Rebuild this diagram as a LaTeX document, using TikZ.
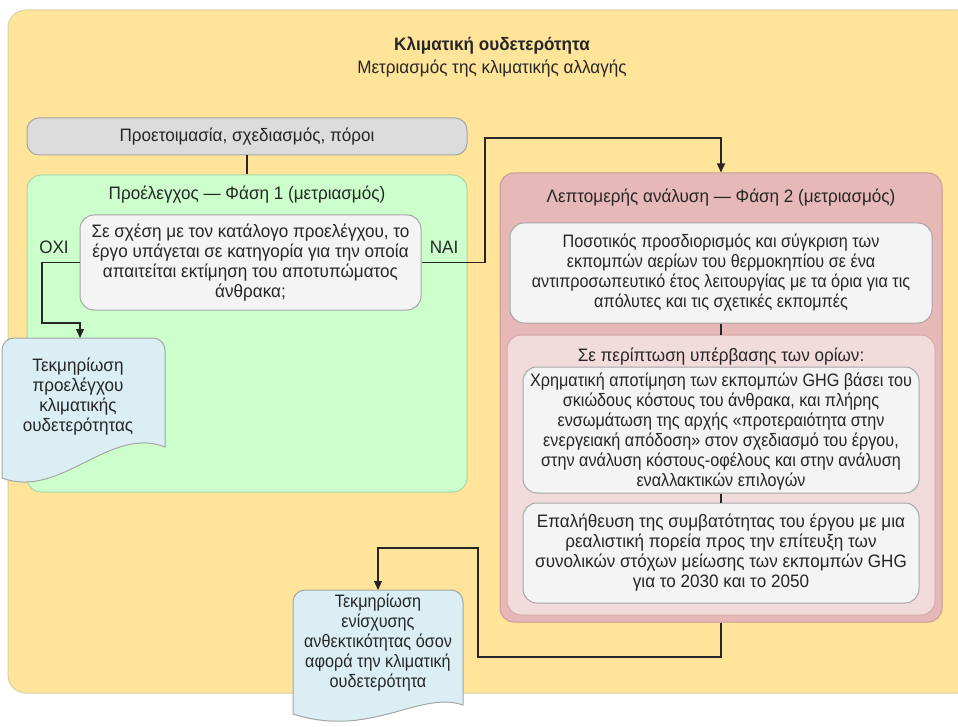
\documentclass[tikz,border=0pt]{standalone}
\usepackage{fontspec}
\setmainfont{Liberation Sans}[FakeStretch=0.95]
\newfontfamily\narrowfam{Liberation Sans}[FakeStretch=0.9]
\usetikzlibrary{arrows.meta}
\definecolor{yel}{HTML}{FFE499}
\definecolor{yelb}{HTML}{D9CFA8}
\definecolor{greyf}{HTML}{DCDCDC}
\definecolor{greyb}{HTML}{A6A6A6}
\definecolor{greenf}{HTML}{CCFFCC}
\definecolor{greenb}{HTML}{A8D8A8}
\definecolor{redf}{HTML}{E6B9B8}
\definecolor{redb}{HTML}{CC9A99}
\definecolor{pinkf}{HTML}{F2DCDB}
\definecolor{pinkb}{HTML}{D6A9A8}
\definecolor{whitef}{HTML}{F4F4F4}
\definecolor{docf}{HTML}{DAEEF3}
\definecolor{txt}{HTML}{262626}
\begin{document}
\begin{tikzpicture}[x=1pt,y=-1pt,
  lbl/.style={text=txt,font=\fontsize{18}{20}\selectfont,align=center,inner sep=0pt},
  nlbl/.style={lbl,font=\narrowfam\fontsize{18}{20}\selectfont},
  box/.style={rounded corners=14pt,line width=1pt},
  wbox/.style={box,draw=greyb,fill=whitef},
  conn/.style={line width=1.1pt,draw=black!85},
  arr/.style={conn,-{Triangle[length=9pt,width=8pt]}},
  docshape/.style={draw=greyb,fill=docf,line width=1pt}
]
\useasboundingbox (0,0) rectangle (958,727);
\fill[white] (0,0) rectangle (958,727);
% outer frame
\draw[fill=yel,draw=yelb,line width=1pt,rounded corners=18pt] (8,10) rectangle (975,693);
\node[lbl,font=\fontsize{18}{20}\selectfont\bfseries] (title) at (492,46) {Κλιματική ουδετερότητα};
\node[lbl] (subtitle) at (492,69) {Μετριασμός της κλιματικής αλλαγής};

% grey box
\node[wbox,fill=greyf,minimum width=440pt,minimum height=37pt,rounded corners=12pt] (grey) at (247,136.5) {};
\node[lbl] (greyt) at (grey.center) {Προετοιμασία, σχεδιασμός, πόροι};

% green box
\node[box,draw=greenb,fill=greenf,minimum width=440pt,minimum height=317pt] (green) at (247,333.5) {};
\node[lbl] (greent) at (247,195) {Προέλεγχος — Φάση 1 (μετριασμός)};
\node[wbox,minimum width=341pt,minimum height=95pt] (q) at (250.5,262.5) {};
\node[lbl] (qt) at (q.center) {Σε σχέση με τον κατάλογο προελέγχου, το\\έργο υπάγεται σε κατηγορία για την οποία\\απαιτείται εκτίμηση του αποτυπώματος\\άνθρακα;};
\node[lbl] (oxi) at (54,247) {ΟΧΙ};
\node[lbl] (nai) at (444,247) {ΝΑΙ};

% red box
\node[box,draw=redb,fill=redf,minimum width=442pt,minimum height=449pt] (red) at (721,397.5) {};
\node[lbl] (redt) at (721,198) {Λεπτομερής ανάλυση — Φάση 2 (μετριασμός)};
\node[wbox,minimum width=422pt,minimum height=100pt] (b1) at (721,273) {};
\node[nlbl] (b1t) at (b1.center) {Ποσοτικός προσδιορισμός και σύγκριση των\\εκπομπών αερίων του θερμοκηπίου σε ένα\\αντιπροσωπευτικό έτος λειτουργίας με τα όρια για τις\\απόλυτες και τις σχετικές εκπομπές};
\node[box,draw=pinkb,fill=pinkf,minimum width=428pt,minimum height=280pt] (pink) at (721,475) {};
\node[lbl] (pinkt) at (721,357) {Σε περίπτωση υπέρβασης των ορίων:};
\node[wbox,minimum width=396pt,minimum height=126pt] (b2) at (721,430) {};
\node[nlbl] (b2t) at (721,432) {Χρηματική αποτίμηση των εκπομπών GHG βάσει του\\σκιώδους κόστους του άνθρακα, και πλήρης\\ενσωμάτωση της αρχής «προτεραιότητα στην\\ενεργειακή απόδοση» στον σχεδιασμό του έργου,\\στην ανάλυση κόστους-οφέλους και στην ανάλυση\\εναλλακτικών επιλογών};
\node[wbox,minimum width=396pt,minimum height=100pt] (b3) at (721,553) {};
\node[lbl] (b3t) at (b3.center) {Επαλήθευση της συμβατότητας του έργου με μια\\ρεαλιστική πορεία προς την επίτευξη των\\συνολικών στόχων μείωσης των εκπομπών GHG\\για το 2030 και το 2050};

% documents
\draw[docshape] (2,478) -- (2,350) arc[start angle=180,end angle=270,radius=12] -- (153,338)
  arc[start angle=270,end angle=360,radius=12] -- (165,447)
  .. controls (110,425) and (60,500) .. (2,478) -- cycle;
\coordinate (d1top) at (80,338);
\node[lbl] (d1t) at (78,397) {Τεκμηρίωση\\προελέγχου\\κλιματικής\\ουδετερότητας};

\draw[docshape] (293,714) -- (293,602) arc[start angle=180,end angle=270,radius=12] -- (451,590)
  arc[start angle=270,end angle=360,radius=12] -- (463,705)
  .. controls (420,690) and (370,739) .. (293,714) -- cycle;
\coordinate (d2top) at (378,590);
\node[nlbl] (d2t) at (378,643) {Τεκμηρίωση\\ενίσχυσης\\ανθεκτικότητας όσον\\αφορά την κλιματική\\ουδετερότητα};

% connectors
\draw[conn] (grey.south) -- (green.north);
\draw[conn] (b1.south) -- (pink.north);
\draw[conn] (b2.south) -- (b3.north);
\draw[arr] (q.west) -| (42,323) -| (d1top);
\draw[arr] (q.east) -| (485,138) -| (red.north);
\draw[arr] (red.south) |- (478,657) |- (378,548) -- (d2top);
\end{tikzpicture}
\end{document}
